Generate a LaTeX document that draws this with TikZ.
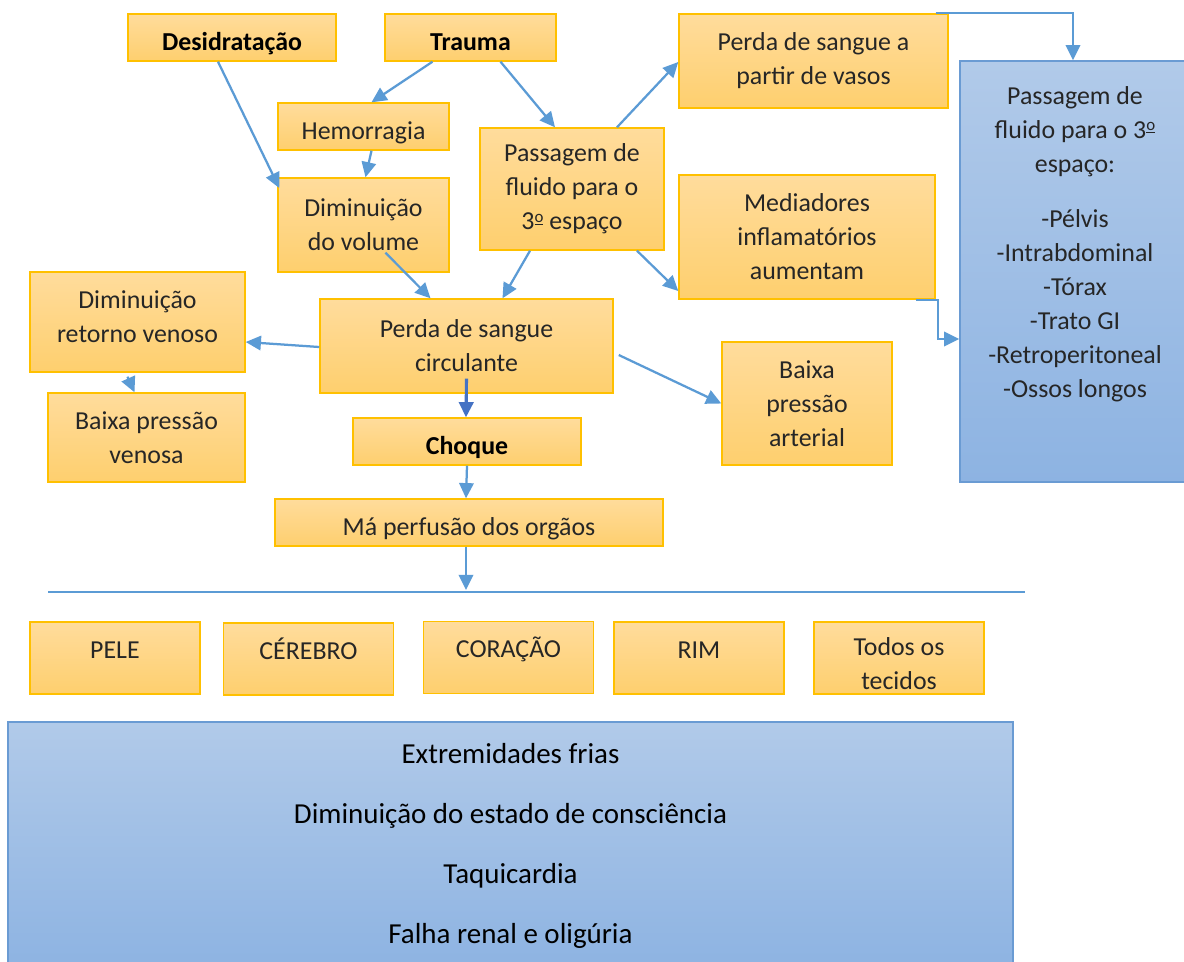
\documentclass[tikz,border=0pt]{standalone}
\usepackage{fontspec}
\setmainfont{Carlito}
\usetikzlibrary{arrows.meta,calc}
\definecolor{otop}{HTML}{FFDC9C}
\definecolor{obot}{HTML}{FECF6E}
\definecolor{oline}{HTML}{FFC000}
\definecolor{btop}{HTML}{B1CAE9}
\definecolor{bbot}{HTML}{8DB3E2}
\definecolor{bline}{HTML}{6A9BD3}
\definecolor{arr}{HTML}{5B9BD5}
\definecolor{arrdark}{HTML}{4472C4}
\newcommand{\boxfont}{\fontsize{18.4}{24.2}\selectfont}
\newcommand{\bigfont}{\fontsize{20.6}{42.7}\selectfont}
\newcommand{\ordm}{\raisebox{0.3em}{\fontsize{12}{12}\selectfont\underline{o}}}

\begin{document}
\begin{tikzpicture}[x=0.025cm,y=-0.025cm]
\tikzstyle{every node}+=[inner sep=0pt, align=center, text=black!85, font=\boxfont]
\tikzstyle{obox}=[draw=oline, line width=1pt, top color=otop, bottom color=obot]
\tikzstyle{bbox}=[draw=bline, line width=1pt, top color=btop, bottom color=bbot]
\tikzstyle{single}=[obox, minimum height=1.175cm, text height=0.78cm, text depth=0.13cm]
\tikzstyle{title}=[single, text=black, font=\boxfont\bfseries]
\tikzstyle{organ}=[obox, minimum width=4.25cm, minimum height=1.8cm, text height=0.45cm, text depth=0.45cm]
\tikzstyle{link}=[draw=arr, line width=1.6pt, -{Triangle[length=0.38cm, width=0.36cm]}]
\clip (0,0) rectangle (1184,961);
\fill[white] (0,0) rectangle (1184,961);
\node[title, minimum width=5.2cm] (desid) at (232,37.5) {Desidratação};
\node[title, minimum width=4.275cm] (trauma) at (470.5,37.5) {Trauma};
\node[single, minimum width=4.275cm] (hemo) at (363.5,126.5) {Hemorragia};
\node[obox, minimum width=4.275cm, minimum height=2.35cm] (dimvol) at (363.5,225) {Diminuição\\do volume};
\node[obox, minimum width=4.6cm, minimum height=3.05cm] (passfl) at (572,189) {Passagem de\\fluido para o\\3\ordm{} espaço};
\node[obox, minimum width=6.725cm, minimum height=2.35cm] (perdav) at (813.5,61) {Perda de sangue a\\partir de vasos};
\node[obox, minimum width=6.4cm, minimum height=3.1cm] (medi) at (807,237) {Mediadores\\inflamatórios\\aumentam};
\node[bbox, minimum width=5.75cm, minimum height=10.525cm, text depth=1.48cm] (third) at (1075,271.5) {Passagem de\\fluido para o 3\ordm\\espaço:\\[0.525cm]-Pélvis\\-Intrabdominal\\-Tórax\\-Trato GI\\-Retroperitoneal\\-Ossos longos};
\node[obox, minimum width=5.375cm, minimum height=2.5cm, text depth=0.25cm] (retven) at (137.5,322) {Diminuição\\retorno venoso};
\node[obox, minimum width=4.925cm, minimum height=2.225cm] (pvenosa) at (146.5,437.5) {Baixa pressão\\venosa};
\node[obox, minimum width=7.325cm, minimum height=2.35cm] (perdac) at (466.5,346) {Perda de sangue\\circulante};
\node[title, minimum width=5.7cm] (choque) at (467,441.5) {Choque};
\node[obox, minimum width=4.25cm, minimum height=3.075cm] (parterial) at (807,403.5) {Baixa\\pressão\\arterial};
\node[single, minimum width=9.7cm] (maperf) at (469,522.5) {Má perfusão dos orgãos};
\node[organ] (pele) at (115,658) {PELE};
\node[organ] (cerebro) at (308.5,659) {CÉREBRO};
\node[organ] (coracao) at (508.5,657.5) {CORAÇÃO};
\node[organ] (rim) at (699,658) {RIM};
\node[obox, minimum width=4.25cm, minimum height=1.8cm, text height=1.68cm, text depth=0.1cm] (todos) at (899,658) {Todos os\\tecidos};
\node[bbox, minimum width=25.125cm, minimum height=6.2cm, text=black, font=\bigfont] (sinais) at (510.5,846) {Extremidades frias\\Diminuição do estado de consciência\\Taquicardia\\Falha renal e oligúria};
\coordinate (sepl) at (48,592);
\coordinate (sepr) at (1025,592);
\coordinate (sepm) at (466,590);
\draw[arr, line width=0.8pt] (sepl) -- (sepr);
\draw[link] ($(desid.south)+(-14,0)$) -- ($(dimvol.west)+(2,-37)$);
\draw[link] ($(trauma.south)+(-38,0)$) -- ($(hemo.north)+(8,0)$);
\draw[link] ($(trauma.south)+(30,0)$) -- ($(passfl.north)+(-17,0)$);
\draw[link] ($(hemo.south)+(8,0)$) -- ($(dimvol.north)+(2,0)$);
\draw[link] ($(passfl.north)+(45,0)$) -- ($(perdav.west)+(0,1)$);
\draw[link] ($(passfl.south)+(65,0)$) -- ($(medi.west)+(0,54)$);
\draw[link] ($(passfl.south)+(-42,0)$) -- ($(perdac.north)+(36,0)$);
\draw[link] ($(dimvol.south)+(22,-20)$) -- ($(perdac.north)+(-36,0)$);
\draw[link] ($(perdac.west)+(0,1)$) -- ($(retven.east)+(0,20)$);
\draw[link] ($(retven.south)+(-10,4)$) -- ($(pvenosa.north)+(-12,0)$);
\draw[link] ($(perdac.east)+(5,9)$) -- (parterial.west);
\draw[link, draw=arrdark, line width=2.2pt] ($(perdac.south)+(0,-15)$) -- ($(choque.north)+(-1,0)$);
\draw[link] (choque.south) -- ($(maperf.north)+(-3,0)$);
\draw[link] ($(maperf.south)+(-3,0)$) -- (sepm);
\draw[link] ($(perdav.north east)+(-13,0)$) -| ($(third.north)+(-2,0)$);
\draw[link] ($(medi.south east)+(-20,0)$) -- ++(22,0) |- ($(third.west)+(0,67.5)$);
\end{tikzpicture}
\end{document}
